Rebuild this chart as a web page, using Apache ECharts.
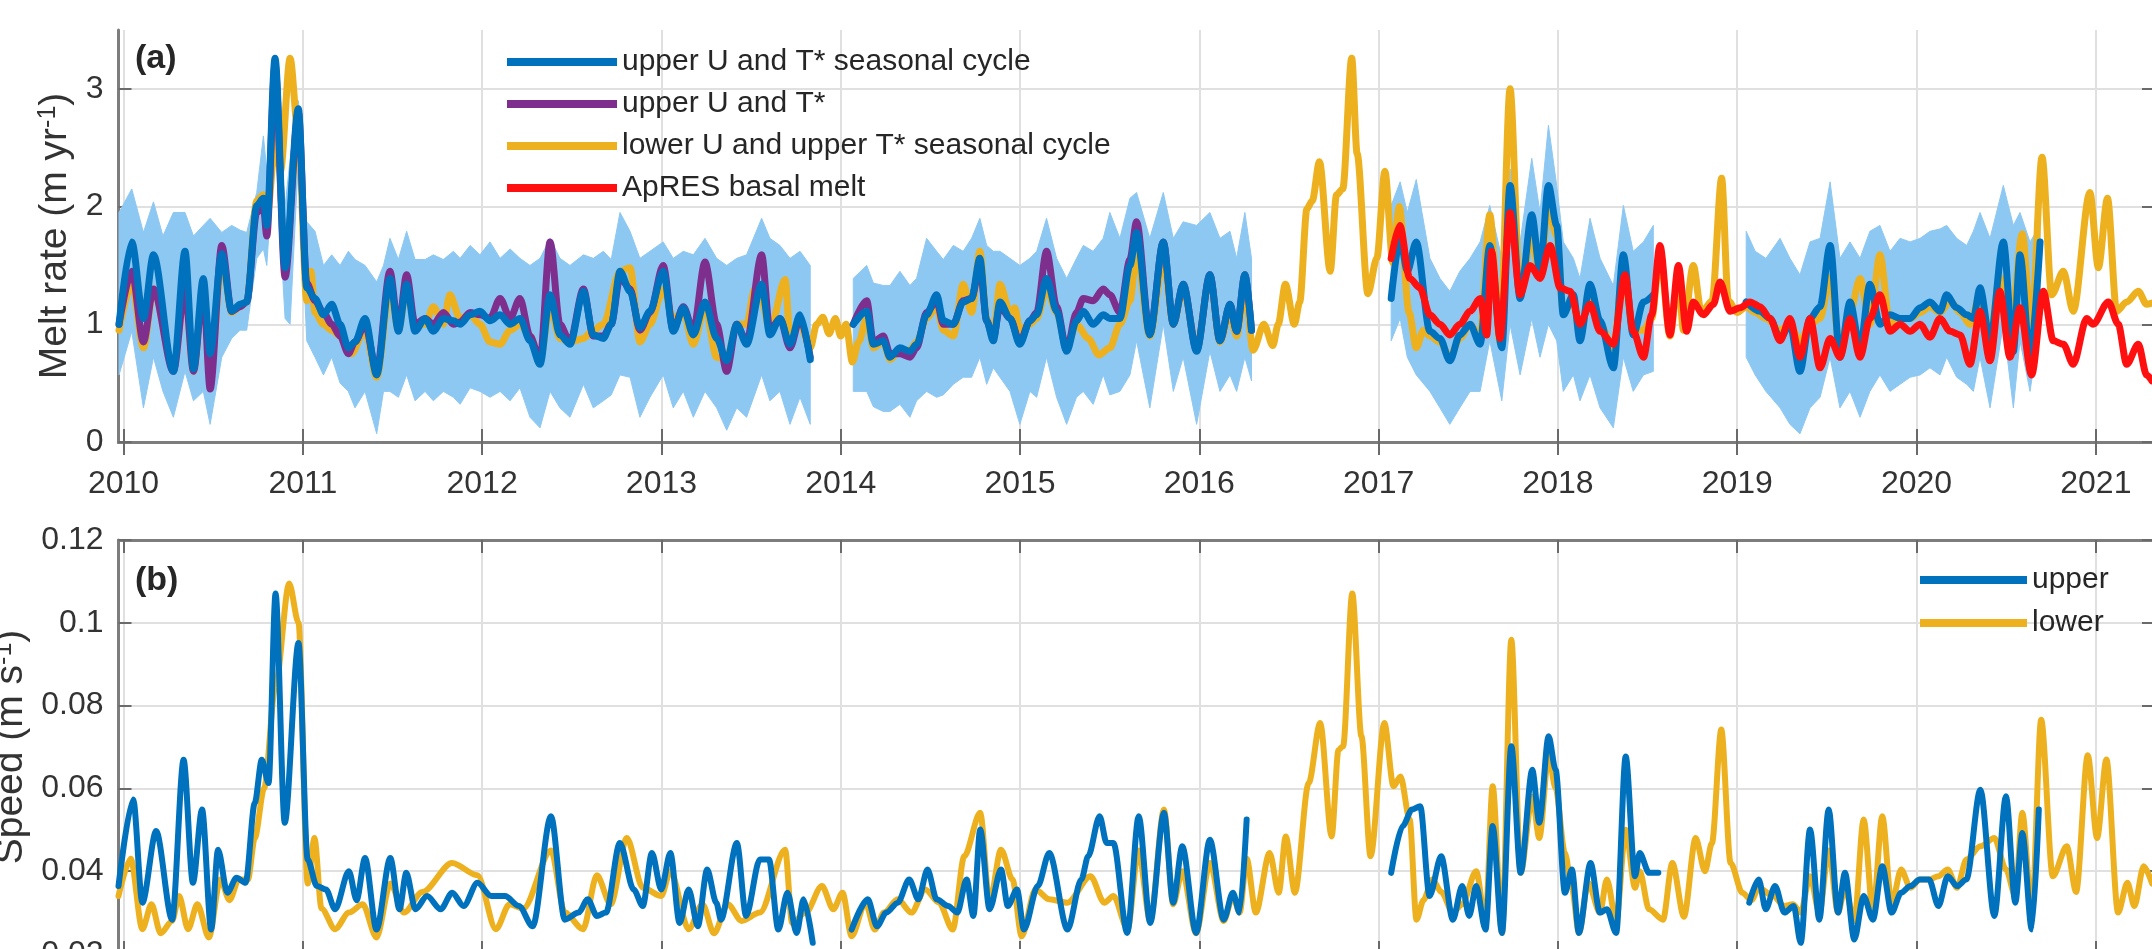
<!DOCTYPE html>
<html><head><meta charset="utf-8">
<script src="https://cdn.jsdelivr.net/npm/echarts@6/dist/echarts.min.js"></script>
<style>html,body{margin:0;padding:0;background:#fff}#c{width:2152px;height:949px}</style>
</head><body><div id="c"></div>
<script>
// ---------- tick labels ----------
const YEAR_TICKS = [2010,2011,2012,2013,2014,2015,2016,2017,2018,2019,2020,2021];
const MELT_TICKS = [0,1,2,3];
const SPEED_TICKS = [0.02,0.04,0.06,0.08,0.1,0.12];
const X_MIN = 2009.972, X_MAX = 2021.330;

// ---------- panel (a): melt rate (m/yr) ----------
// upper U and T* seasonal cycle (segments)
const meltUpperSeasonal = [
[[2009.975,1.00],[2010.046,1.70],[2010.111,1.05],[2010.167,1.59],[2010.278,0.60],[2010.343,1.62],[2010.39,0.62],[2010.445,1.39],[2010.483,0.75],[2010.548,1.60],[2010.603,1.11],[2010.65,1.17],[2010.687,1.19],[2010.743,2.01],[2010.78,2.07],[2010.799,1.84],[2010.845,3.26],[2010.901,1.48],[2010.975,2.83],[2011.022,1.31],[2011.068,1.22],[2011.115,1.08],[2011.161,1.17],[2011.208,1.00],[2011.254,0.80],[2011.291,0.85],[2011.347,1.05],[2011.412,0.57],[2011.486,1.39],[2011.533,0.94],[2011.579,1.34],[2011.626,0.94],[2011.682,1.05],[2011.728,0.94],[2011.784,1.05],[2011.84,1.03],[2011.877,1.00],[2011.933,1.08],[2011.988,1.11],[2012.044,1.03],[2012.10,1.08],[2012.156,1.00],[2012.211,1.05],[2012.267,0.86],[2012.323,0.66],[2012.379,1.25],[2012.434,0.91],[2012.49,0.83],[2012.565,1.28],[2012.62,0.91],[2012.676,0.88],[2012.72,1.00],[2012.769,1.45],[2012.825,1.28],[2012.88,0.97],[2012.936,1.11],[2013.01,1.45],[2013.066,0.94],[2013.122,1.14],[2013.178,0.91],[2013.243,1.19],[2013.308,0.88],[2013.364,0.69],[2013.42,1.00],[2013.475,0.83],[2013.559,1.34],[2013.605,0.91],[2013.661,1.05],[2013.717,0.83],[2013.773,1.08],[2013.83,0.70]],
[[2014.07,1.00],[2014.145,1.11],[2014.182,0.83],[2014.237,0.86],[2014.275,0.72],[2014.33,0.80],[2014.386,0.77],[2014.423,0.83],[2014.479,1.08],[2014.535,1.25],[2014.572,1.03],[2014.628,1.00],[2014.683,1.19],[2014.73,1.22],[2014.776,1.56],[2014.814,1.03],[2014.851,0.86],[2014.888,1.19],[2014.944,1.05],[2014.999,0.83],[2015.055,1.03],[2015.093,1.08],[2015.148,1.39],[2015.204,1.11],[2015.26,0.77],[2015.315,1.03],[2015.353,1.11],[2015.408,1.00],[2015.464,1.08],[2015.501,1.05],[2015.557,1.05],[2015.613,1.50],[2015.65,1.78],[2015.724,0.91],[2015.799,1.70],[2015.855,1.00],[2015.91,1.34],[2015.985,0.77],[2016.059,1.42],[2016.115,0.86],[2016.171,1.17],[2016.208,0.94],[2016.254,1.42],[2016.291,0.95]],
[[2017.07,1.22],[2017.12,1.73],[2017.16,1.45],[2017.21,1.70],[2017.286,0.94],[2017.342,0.88],[2017.397,0.69],[2017.453,0.91],[2017.51,1.00],[2017.566,0.83],[2017.62,1.67],[2017.687,0.80],[2017.733,2.18],[2017.789,1.22],[2017.854,1.93],[2017.90,1.45],[2017.947,2.18],[2017.993,1.84],[2018.03,1.08],[2018.086,1.25],[2018.123,0.86],[2018.179,1.34],[2018.235,1.03],[2018.309,0.63],[2018.365,1.59],[2018.42,0.91],[2018.477,1.19],[2018.532,1.25]],
[[2019.05,1.19],[2019.127,1.11],[2019.183,1.05],[2019.239,0.88],[2019.294,1.00],[2019.35,0.60],[2019.406,1.05],[2019.462,1.15],[2019.518,1.67],[2019.573,0.72],[2019.629,1.19],[2019.685,0.80],[2019.74,1.34],[2019.796,1.00],[2019.852,1.08],[2019.908,1.05],[2019.964,1.05],[2020.02,1.14],[2020.075,1.19],[2020.131,1.11],[2020.168,1.25],[2020.224,1.14],[2020.28,1.08],[2020.317,1.05],[2020.354,1.31],[2020.41,0.86],[2020.484,1.70],[2020.54,0.77],[2020.577,1.59],[2020.633,0.72],[2020.689,1.70]]
];
// uncertainty band of the seasonal-cycle estimate: [year, low, high]
const meltBand = [
[[2009.975,0.57,1.95],[2010.046,0.94,2.15],[2010.111,0.29,1.78],[2010.167,0.72,2.04],[2010.22,0.43,1.75],[2010.278,0.21,1.95],[2010.343,0.60,1.95],[2010.39,0.35,1.75],[2010.445,0.43,1.84],[2010.483,0.15,1.90],[2010.548,0.72,1.78],[2010.603,0.88,1.84],[2010.65,0.95,1.80],[2010.687,0.95,1.78],[2010.743,1.56,2.12],[2010.78,1.64,2.60],[2010.799,1.50,2.30],[2010.845,2.55,3.28],[2010.901,1.05,2.00],[2010.929,1.00,2.40],[2010.975,2.40,2.90],[2011.022,0.86,1.87],[2011.068,0.72,1.79],[2011.115,0.57,1.50],[2011.161,0.72,1.59],[2011.208,0.50,1.50],[2011.254,0.43,1.62],[2011.291,0.29,1.55],[2011.347,0.43,1.50],[2011.412,0.07,1.36],[2011.45,0.43,1.50],[2011.486,0.43,1.73],[2011.533,0.38,1.55],[2011.579,0.57,1.79],[2011.626,0.35,1.55],[2011.682,0.43,1.55],[2011.728,0.35,1.59],[2011.784,0.43,1.55],[2011.84,0.38,1.62],[2011.877,0.32,1.56],[2011.933,0.46,1.67],[2011.988,0.43,1.59],[2012.044,0.38,1.70],[2012.10,0.43,1.56],[2012.156,0.35,1.64],[2012.211,0.46,1.56],[2012.267,0.21,1.50],[2012.323,0.12,1.56],[2012.379,0.43,1.73],[2012.434,0.29,1.56],[2012.49,0.21,1.50],[2012.565,0.49,1.59],[2012.62,0.29,1.56],[2012.676,0.35,1.62],[2012.72,0.40,1.55],[2012.769,0.57,1.95],[2012.825,0.55,1.79],[2012.88,0.21,1.56],[2012.936,0.38,1.62],[2013.01,0.57,1.70],[2013.066,0.29,1.56],[2013.122,0.43,1.62],[2013.178,0.21,1.59],[2013.243,0.43,1.73],[2013.308,0.29,1.56],[2013.364,0.10,1.50],[2013.42,0.29,1.56],[2013.475,0.21,1.59],[2013.559,0.57,1.90],[2013.605,0.35,1.73],[2013.661,0.43,1.67],[2013.717,0.15,1.56],[2013.773,0.38,1.62],[2013.83,0.15,1.50]],
[[2014.07,0.43,1.39],[2014.145,0.43,1.50],[2014.182,0.30,1.35],[2014.237,0.26,1.33],[2014.275,0.26,1.33],[2014.33,0.32,1.45],[2014.386,0.21,1.33],[2014.423,0.35,1.39],[2014.479,0.43,1.73],[2014.535,0.38,1.62],[2014.572,0.40,1.55],[2014.628,0.49,1.67],[2014.683,0.55,1.62],[2014.73,0.55,1.73],[2014.776,0.72,1.90],[2014.814,0.49,1.67],[2014.851,0.63,1.62],[2014.888,0.55,1.62],[2014.944,0.43,1.56],[2014.999,0.15,1.50],[2015.055,0.43,1.56],[2015.093,0.38,1.62],[2015.148,0.72,1.90],[2015.204,0.38,1.56],[2015.26,0.15,1.39],[2015.315,0.38,1.56],[2015.353,0.43,1.67],[2015.408,0.32,1.62],[2015.464,0.57,1.73],[2015.501,0.40,1.95],[2015.557,0.43,1.73],[2015.613,0.57,2.07],[2015.65,0.86,2.12],[2015.724,0.29,1.73],[2015.799,1.00,2.12],[2015.855,0.43,1.73],[2015.91,0.72,1.87],[2015.985,0.15,1.84],[2016.059,0.77,1.95],[2016.115,0.43,1.73],[2016.171,0.57,1.79],[2016.208,0.43,1.56],[2016.254,0.72,1.95],[2016.291,0.52,1.56]],
[[2017.07,0.86,2.01],[2017.12,1.05,2.21],[2017.16,0.72,1.95],[2017.21,0.57,2.23],[2017.286,0.43,1.56],[2017.342,0.29,1.39],[2017.397,0.15,1.28],[2017.453,0.29,1.45],[2017.51,0.43,1.56],[2017.566,0.43,1.70],[2017.62,0.86,2.01],[2017.687,0.35,1.56],[2017.733,1.00,2.32],[2017.789,0.57,1.70],[2017.854,1.05,2.41],[2017.90,0.72,1.95],[2017.947,1.00,2.69],[2017.993,0.86,2.18],[2018.03,0.43,1.70],[2018.086,0.57,1.56],[2018.123,0.35,1.39],[2018.179,0.57,1.90],[2018.235,0.29,1.56],[2018.309,0.12,1.33],[2018.365,0.72,2.01],[2018.42,0.43,1.62],[2018.477,0.57,1.70],[2018.532,0.60,1.84]],
[[2019.05,0.72,1.79],[2019.10,0.57,1.62],[2019.16,0.43,1.56],[2019.239,0.29,1.73],[2019.294,0.15,1.56],[2019.35,0.07,1.42],[2019.406,0.29,1.70],[2019.462,0.38,1.73],[2019.518,0.72,2.21],[2019.573,0.29,1.56],[2019.629,0.43,1.70],[2019.685,0.21,1.56],[2019.74,0.43,1.79],[2019.796,0.57,1.84],[2019.852,0.43,1.62],[2019.908,0.49,1.73],[2019.964,0.55,1.70],[2020.02,0.57,1.73],[2020.075,0.63,1.79],[2020.131,0.57,1.81],[2020.168,0.72,1.84],[2020.224,0.55,1.73],[2020.28,0.49,1.67],[2020.317,0.43,1.79],[2020.354,0.72,1.95],[2020.41,0.29,1.73],[2020.484,1.00,2.18],[2020.54,0.29,1.84],[2020.577,0.86,1.95],[2020.633,0.43,1.70],[2020.689,1.00,1.84]]
];
// upper U and T*
const meltUpper = [
[[2009.975,1.00],[2010.046,1.45],[2010.111,0.85],[2010.167,1.30],[2010.278,0.60],[2010.343,1.30],[2010.39,0.60],[2010.445,1.30],[2010.483,0.45],[2010.548,1.67],[2010.603,1.11],[2010.65,1.15],[2010.687,1.19],[2010.743,1.95],[2010.78,2.00],[2010.799,1.75],[2010.845,3.20],[2010.901,1.40],[2010.975,2.80],[2011.022,1.35],[2011.068,1.20],[2011.115,1.10],[2011.161,1.00],[2011.208,0.90],[2011.254,0.75],[2011.291,0.85],[2011.347,1.00],[2011.412,0.60],[2011.486,1.45],[2011.533,0.97],[2011.579,1.42],[2011.626,1.00],[2011.682,1.05],[2011.728,1.00],[2011.784,1.10],[2011.84,1.00],[2011.877,1.02],[2011.933,1.10],[2011.988,1.08],[2012.044,1.05],[2012.10,1.22],[2012.156,1.05],[2012.211,1.22],[2012.267,0.90],[2012.323,0.70],[2012.379,1.70],[2012.434,1.00],[2012.49,0.85],[2012.565,1.30],[2012.62,0.90],[2012.676,0.90],[2012.72,1.00],[2012.769,1.40],[2012.825,1.30],[2012.88,0.95],[2012.936,1.10],[2013.01,1.50],[2013.066,0.95],[2013.122,1.15],[2013.178,0.95],[2013.243,1.53],[2013.308,1.00],[2013.364,0.60],[2013.42,1.00],[2013.475,0.85],[2013.559,1.59],[2013.605,0.95],[2013.661,1.05],[2013.717,0.80],[2013.773,1.05],[2013.83,0.72]],
[[2014.07,1.00],[2014.145,1.20],[2014.182,0.85],[2014.237,0.90],[2014.275,0.75],[2014.33,0.75],[2014.386,0.72],[2014.423,0.80],[2014.479,1.10],[2014.535,1.20],[2014.572,1.00],[2014.628,1.00],[2014.683,1.20],[2014.73,1.22],[2014.776,1.50],[2014.814,1.03],[2014.851,0.88],[2014.888,1.15],[2014.944,1.05],[2014.999,0.85],[2015.055,1.03],[2015.093,1.10],[2015.148,1.62],[2015.204,1.15],[2015.26,0.78],[2015.315,1.10],[2015.353,1.22],[2015.408,1.20],[2015.464,1.30],[2015.501,1.25],[2015.557,1.10],[2015.613,1.55],[2015.65,1.87],[2015.724,0.92],[2015.799,1.70],[2015.855,1.00],[2015.91,1.34],[2015.985,0.78],[2016.059,1.42],[2016.115,0.86],[2016.171,1.17],[2016.208,0.94],[2016.254,1.42],[2016.291,0.95]]
];
// lower U and upper T* seasonal cycle
const meltLowerSeasonal = [
[[2009.975,0.95],[2010.046,1.35],[2010.111,0.80],[2010.167,1.30],[2010.278,0.62],[2010.343,1.30],[2010.39,0.60],[2010.445,1.30],[2010.483,0.55],[2010.548,1.55],[2010.603,1.10],[2010.65,1.15],[2010.687,1.19],[2010.743,2.05],[2010.78,2.10],[2010.799,1.90],[2010.85,2.60],[2010.875,2.30],[2010.929,3.26],[2010.975,2.60],[2011.022,1.20],[2011.045,1.45],[2011.068,1.10],[2011.115,1.00],[2011.161,0.95],[2011.208,0.90],[2011.27,0.75],[2011.347,0.95],[2011.412,0.55],[2011.486,1.30],[2011.533,0.95],[2011.579,1.30],[2011.626,1.00],[2011.682,1.00],[2011.728,1.15],[2011.784,1.00],[2011.82,1.25],[2011.877,1.05],[2011.933,1.08],[2011.988,1.00],[2012.044,0.85],[2012.10,0.83],[2012.156,0.95],[2012.211,1.00],[2012.267,0.90],[2012.323,0.70],[2012.379,1.15],[2012.434,0.88],[2012.49,0.85],[2012.565,0.88],[2012.62,0.95],[2012.676,1.00],[2012.769,1.45],[2012.825,1.48],[2012.88,0.85],[2012.936,1.00],[2013.01,1.30],[2013.066,1.05],[2013.122,1.10],[2013.178,0.83],[2013.243,1.15],[2013.308,0.72],[2013.364,0.70],[2013.42,1.00],[2013.475,1.00],[2013.52,1.30],[2013.559,1.20],[2013.605,0.95],[2013.69,1.38],[2013.717,0.90],[2013.773,1.00],[2013.83,0.80],[2013.866,1.00],[2013.90,1.06],[2013.935,0.92],[2013.97,1.05],[2014.00,0.90],[2014.03,1.00],[2014.065,0.68],[2014.10,0.85],[2014.145,1.05],[2014.182,0.80],[2014.237,0.85],[2014.275,0.70],[2014.33,0.78],[2014.386,0.78],[2014.423,0.85],[2014.479,1.05],[2014.535,1.15],[2014.572,0.95],[2014.628,0.90],[2014.683,1.34],[2014.73,1.10],[2014.776,1.62],[2014.814,1.05],[2014.851,0.88],[2014.888,1.34],[2014.944,1.10],[2014.97,1.14],[2014.999,0.95],[2015.055,1.00],[2015.093,1.05],[2015.148,1.30],[2015.204,1.10],[2015.26,0.80],[2015.315,1.00],[2015.38,0.88],[2015.44,0.74],[2015.501,0.80],[2015.557,1.00],[2015.613,1.20],[2015.65,1.60],[2015.724,0.90],[2015.799,1.55],[2015.855,1.00],[2015.91,1.30],[2015.985,0.80],[2016.059,1.40],[2016.115,0.85],[2016.171,1.10],[2016.208,0.90],[2016.254,1.30],[2016.30,0.78],[2016.36,1.00],[2016.41,0.82],[2016.44,1.00],[2016.48,1.34],[2016.53,1.00],[2016.56,1.19],[2016.60,1.98],[2016.63,2.05],[2016.67,2.38],[2016.73,1.45],[2016.765,2.10],[2016.80,2.15],[2016.85,3.26],[2016.88,2.45],[2016.94,1.26],[2016.99,1.56],[2017.035,2.30],[2017.08,1.52],[2017.115,2.00],[2017.17,1.10],[2017.21,0.80],[2017.25,0.95],[2017.286,0.90],[2017.342,0.85],[2017.397,0.72],[2017.453,0.88],[2017.51,1.00],[2017.566,0.90],[2017.62,1.93],[2017.677,0.85],[2017.733,3.00],[2017.789,1.25],[2017.854,1.75],[2017.90,1.40],[2017.947,2.00],[2017.993,1.75],[2018.03,1.10],[2018.086,1.20],[2018.123,0.90],[2018.179,1.30],[2018.235,1.00],[2018.309,0.80],[2018.365,1.45],[2018.42,0.95],[2018.477,0.95],[2018.523,1.05],[2018.569,1.60],[2018.625,0.90],[2018.672,1.40],[2018.70,0.95],[2018.755,1.50],[2018.80,1.10],[2018.86,1.20],[2018.913,2.24],[2018.95,1.20],[2019.00,1.10],[2019.05,1.15],[2019.10,1.10],[2019.16,1.05],[2019.239,0.95],[2019.294,1.00],[2019.35,0.85],[2019.406,1.00],[2019.462,1.05],[2019.518,1.40],[2019.573,0.80],[2019.629,1.10],[2019.685,1.39],[2019.74,1.00],[2019.796,1.59],[2019.852,1.00],[2019.908,1.05],[2019.964,1.05],[2020.02,1.10],[2020.075,1.15],[2020.131,1.10],[2020.187,1.20],[2020.243,1.10],[2020.298,1.00],[2020.354,1.25],[2020.41,0.90],[2020.465,1.40],[2020.521,0.90],[2020.59,1.77],[2020.64,0.95],[2020.70,2.42],[2020.754,1.25],[2020.819,1.45],[2020.874,1.11],[2020.967,2.12],[2021.014,1.48],[2021.065,2.07],[2021.116,1.11],[2021.172,1.19],[2021.237,1.28],[2021.283,1.17],[2021.313,1.18]]
];
// ApRES basal melt
const meltApres = [
[[2017.07,1.56],[2017.118,1.84],[2017.174,1.39],[2017.23,1.31],[2017.286,1.08],[2017.342,1.00],[2017.397,0.91],[2017.453,1.00],[2017.51,1.11],[2017.566,1.22],[2017.603,0.91],[2017.63,1.62],[2017.677,0.88],[2017.733,1.95],[2017.789,1.25],[2017.845,1.50],[2017.90,1.39],[2017.956,1.67],[2018.012,1.31],[2018.068,1.28],[2018.123,1.00],[2018.179,1.17],[2018.235,0.94],[2018.309,0.83],[2018.374,1.42],[2018.42,0.94],[2018.477,0.72],[2018.523,1.08],[2018.569,1.67],[2018.625,0.91],[2018.672,1.50],[2018.718,0.94],[2018.755,1.19],[2018.811,1.08],[2018.867,1.17],[2018.904,1.36],[2018.96,1.11],[2019.016,1.14],[2019.071,1.19],[2019.127,1.15],[2019.183,1.05],[2019.239,0.86],[2019.294,1.05],[2019.35,0.72],[2019.406,1.05],[2019.462,0.63],[2019.518,0.88],[2019.573,0.72],[2019.629,1.05],[2019.685,0.72],[2019.74,1.05],[2019.796,1.25],[2019.852,0.94],[2019.908,1.00],[2019.964,0.94],[2020.02,1.00],[2020.075,0.89],[2020.131,1.05],[2020.187,0.94],[2020.243,0.91],[2020.298,0.66],[2020.354,1.11],[2020.41,0.69],[2020.465,1.28],[2020.521,0.72],[2020.577,1.14],[2020.642,0.57],[2020.707,1.28],[2020.763,0.86],[2020.819,0.83],[2020.874,0.66],[2020.949,1.05],[2020.985,1.00],[2021.07,1.19],[2021.125,1.00],[2021.172,0.66],[2021.237,0.83],[2021.283,0.57],[2021.313,0.52]]
];

// ---------- panel (b): speed (m/s) ----------
const speedUpper = [
[[2009.972,0.0364],[2010.054,0.0573],[2010.105,0.0324],[2010.182,0.0497],[2010.271,0.0283],[2010.335,0.0669],[2010.387,0.0372],[2010.438,0.0549],[2010.489,0.0259],[2010.527,0.0452],[2010.579,0.0348],[2010.63,0.0384],[2010.681,0.0372],[2010.732,0.0565],[2010.771,0.0669],[2010.809,0.0613],[2010.848,0.1071],[2010.899,0.0517],[2010.976,0.0951],[2011.027,0.0428],[2011.078,0.0364],[2011.129,0.0356],[2011.18,0.0308],[2011.257,0.0400],[2011.30,0.0330],[2011.347,0.0432],[2011.411,0.0259],[2011.488,0.0432],[2011.539,0.0308],[2011.577,0.0396],[2011.628,0.0308],[2011.693,0.0340],[2011.769,0.0308],[2011.833,0.0348],[2011.897,0.0316],[2011.974,0.0372],[2012.051,0.0340],[2012.128,0.0340],[2012.205,0.0316],[2012.282,0.0267],[2012.384,0.0533],[2012.461,0.0283],[2012.538,0.0300],[2012.589,0.0332],[2012.64,0.0292],[2012.691,0.0300],[2012.768,0.0468],[2012.845,0.0356],[2012.896,0.0316],[2012.947,0.0444],[2012.999,0.0356],[2013.05,0.0444],[2013.101,0.0275],[2013.152,0.0356],[2013.203,0.0267],[2013.255,0.0404],[2013.306,0.0324],[2013.332,0.0283],[2013.421,0.0468],[2013.472,0.0292],[2013.549,0.0428],[2013.60,0.0428],[2013.652,0.0259],[2013.703,0.0348],[2013.754,0.0251],[2013.793,0.0332],[2013.844,0.0227]],
[[2014.061,0.0259],[2014.151,0.0332],[2014.202,0.0267],[2014.254,0.0300],[2014.318,0.0324],[2014.382,0.0380],[2014.433,0.0332],[2014.484,0.0404],[2014.535,0.0332],[2014.599,0.0316],[2014.65,0.0300],[2014.702,0.0380],[2014.74,0.0292],[2014.778,0.0501],[2014.83,0.0308],[2014.894,0.0404],[2014.932,0.0316],[2014.983,0.0356],[2015.022,0.0259],[2015.099,0.0364],[2015.163,0.0444],[2015.265,0.0259],[2015.342,0.0380],[2015.38,0.0436],[2015.444,0.0533],[2015.483,0.0468],[2015.521,0.0468],[2015.598,0.0251],[2015.662,0.0533],[2015.726,0.0275],[2015.803,0.0541],[2015.854,0.0324],[2015.905,0.0460],[2015.982,0.0251],[2016.059,0.0476],[2016.136,0.0283],[2016.187,0.0348],[2016.225,0.0300],[2016.264,0.0525]],
[[2017.07,0.0396],[2017.134,0.0509],[2017.186,0.0549],[2017.232,0.0557],[2017.284,0.0340],[2017.349,0.0436],[2017.414,0.0283],[2017.466,0.0364],[2017.505,0.0292],[2017.544,0.0364],[2017.596,0.0259],[2017.636,0.0509],[2017.688,0.0251],[2017.74,0.0702],[2017.792,0.0396],[2017.857,0.0645],[2017.896,0.0517],[2017.948,0.0726],[2017.987,0.0645],[2018.039,0.0348],[2018.078,0.0404],[2018.117,0.0251],[2018.182,0.0420],[2018.234,0.0300],[2018.273,0.0308],[2018.325,0.0251],[2018.378,0.0677],[2018.43,0.0388],[2018.456,0.0444],[2018.508,0.0396],[2018.56,0.0396]],
[[2019.067,0.0324],[2019.12,0.0380],[2019.159,0.0308],[2019.211,0.0364],[2019.263,0.0300],[2019.315,0.0316],[2019.354,0.0227],[2019.406,0.0501],[2019.458,0.0283],[2019.51,0.0549],[2019.562,0.0300],[2019.601,0.0396],[2019.653,0.0235],[2019.705,0.0340],[2019.757,0.0283],[2019.809,0.0412],[2019.861,0.0300],[2019.914,0.0348],[2019.966,0.0364],[2020.018,0.0380],[2020.07,0.0380],[2020.122,0.0316],[2020.174,0.0388],[2020.226,0.0364],[2020.278,0.0380],[2020.356,0.0597],[2020.434,0.0292],[2020.499,0.0581],[2020.551,0.0324],[2020.59,0.0492],[2020.643,0.0259],[2020.682,0.0549]]
];
const speedLower = [
[[2009.972,0.034],[2010.04,0.043],[2010.105,0.026],[2010.156,0.032],[2010.207,0.025],[2010.271,0.028],[2010.31,0.034],[2010.36,0.026],[2010.412,0.032],[2010.476,0.024],[2010.54,0.038],[2010.591,0.033],[2010.643,0.038],[2010.694,0.038],[2010.732,0.048],[2010.784,0.060],[2010.848,0.085],[2010.924,0.1095],[2010.976,0.100],[2011.027,0.037],[2011.065,0.048],[2011.104,0.031],[2011.18,0.026],[2011.257,0.030],[2011.334,0.032],[2011.411,0.024],[2011.488,0.037],[2011.564,0.030],[2011.667,0.035],[2011.833,0.042],[2011.974,0.039],[2012.077,0.026],[2012.153,0.032],[2012.23,0.031],[2012.384,0.045],[2012.461,0.030],[2012.563,0.026],[2012.64,0.039],[2012.717,0.032],[2012.807,0.048],[2012.896,0.036],[2012.999,0.034],[2013.05,0.040],[2013.152,0.026],[2013.229,0.032],[2013.293,0.025],[2013.37,0.032],[2013.447,0.028],[2013.549,0.030],[2013.69,0.0452],[2013.729,0.0275],[2013.805,0.030],[2013.895,0.0364],[2013.959,0.0308],[2014.01,0.0348],[2014.061,0.0243],[2014.138,0.0324],[2014.19,0.0259],[2014.241,0.030],[2014.318,0.0332],[2014.394,0.030],[2014.471,0.0356],[2014.548,0.0324],[2014.625,0.0259],[2014.689,0.0436],[2014.778,0.0541],[2014.83,0.0324],[2014.894,0.0452],[2014.958,0.038],[2015.009,0.0243],[2015.086,0.0356],[2015.163,0.0332],[2015.265,0.0324],[2015.393,0.0388],[2015.47,0.0324],[2015.521,0.034],[2015.60,0.026],[2015.66,0.045],[2015.726,0.028],[2015.803,0.0549],[2015.854,0.032],[2015.905,0.040],[2015.982,0.025],[2016.059,0.042],[2016.136,0.028],[2016.187,0.034],[2016.225,0.030],[2016.264,0.043],[2016.315,0.030],[2016.392,0.0444],[2016.443,0.0348],[2016.482,0.0484],[2016.533,0.0348],[2016.61,0.0613],[2016.674,0.0758],[2016.738,0.0484],[2016.776,0.0693],[2016.802,0.0702],[2016.853,0.1071],[2016.904,0.0726],[2016.955,0.0436],[2017.032,0.0758],[2017.083,0.0605],[2017.122,0.0629],[2017.173,0.0525],[2017.211,0.0283],[2017.25,0.033],[2017.30,0.038],[2017.349,0.035],[2017.414,0.030],[2017.466,0.032],[2017.544,0.040],[2017.596,0.028],[2017.636,0.0605],[2017.688,0.0251],[2017.74,0.0959],[2017.792,0.0396],[2017.857,0.058],[2017.896,0.048],[2017.948,0.068],[2017.987,0.060],[2018.039,0.0444],[2018.078,0.036],[2018.117,0.0251],[2018.169,0.0372],[2018.234,0.030],[2018.273,0.038],[2018.325,0.028],[2018.378,0.050],[2018.43,0.036],[2018.456,0.040],[2018.508,0.0308],[2018.586,0.0283],[2018.638,0.042],[2018.703,0.029],[2018.768,0.048],[2018.82,0.040],[2018.859,0.0468],[2018.911,0.0742],[2018.963,0.042],[2019.028,0.0348],[2019.08,0.033],[2019.12,0.036],[2019.20,0.034],[2019.263,0.0316],[2019.31,0.032],[2019.354,0.030],[2019.406,0.0388],[2019.458,0.030],[2019.51,0.045],[2019.562,0.030],[2019.601,0.036],[2019.653,0.028],[2019.705,0.0525],[2019.757,0.030],[2019.809,0.0533],[2019.861,0.032],[2019.914,0.0404],[2019.966,0.036],[2020.018,0.038],[2020.07,0.038],[2020.122,0.0388],[2020.174,0.0404],[2020.226,0.036],[2020.278,0.0428],[2020.356,0.046],[2020.434,0.048],[2020.499,0.0404],[2020.551,0.034],[2020.59,0.0541],[2020.643,0.030],[2020.695,0.0766],[2020.76,0.0388],[2020.838,0.046],[2020.89,0.035],[2020.955,0.068],[2021.007,0.048],[2021.059,0.067],[2021.124,0.030],[2021.176,0.0372],[2021.215,0.0316],[2021.267,0.0412],[2021.314,0.037]]
];

// ---------- names & colours ----------
const NAMES_A = ['upper U and T* seasonal cycle','upper U and T*','lower U and upper T* seasonal cycle','ApRES basal melt'];
const NAMES_B = ['upper','lower'];
const C_BLUE='#0072BD', C_PURPLE='#7E2F8E', C_YELLOW='#EDB120', C_RED='#FF1010', C_BAND='#8DC8F3';
const FONT='Liberation Sans';

function lines(name, segs, color, width, xi, yi, z){
  return segs.map(seg => ({
    type:'line', name, data:seg, xAxisIndex:xi, yAxisIndex:yi, z,
    showSymbol:false, symbol:'none', smooth:0.3, smoothMonotone:'x',
    lineStyle:{color, width, join:'round', cap:'round'}, itemStyle:{color},
    animation:false, silent:true
  }));
}
// shaded band drawn as one polygon per segment, positioned by the axis scales
function band(segs, color, xi, yi){
  return {
    type:'custom', name:'_band', xAxisIndex:xi, yAxisIndex:yi, z:1, silent:true, animation:false, clip:true,
    data: segs.map(seg => [seg[0][0], seg[0][1]]),
    renderItem:(params, api) => {
      const seg = segs[params.dataIndex];
      const top = seg.map(p => api.coord([p[0], p[2]]));
      const bot = seg.map(p => api.coord([p[0], p[1]])).reverse();
      return {type:'polygon', shape:{points: top.concat(bot)}, style:{fill: color, stroke: color, lineWidth: 1}};
    }
  };
}

const axisLine = {show:true, lineStyle:{color:'#7d7d7d', width:3}};
const tickStyle = {color:'#6a6a6a', width:2};
function xAxes(grid){
  return [{
    type:'value', gridIndex:grid, min:X_MIN, max:X_MAX, position:'bottom',
    axisLine, axisTick:{show:true, inside:true, length:13, customValues:YEAR_TICKS, lineStyle:tickStyle},
    axisLabel:{show:true, customValues:YEAR_TICKS, fontSize:32, fontFamily:FONT, color:'#333', margin:26, formatter:v=>String(Math.round(v))},
    splitLine:{show:true, lineStyle:{color:'#e0e0e0', width:2}}
  },{
    type:'value', gridIndex:grid, min:X_MIN, max:X_MAX, position:'top',
    axisLine, axisTick:{show:true, inside:true, length:13, customValues:YEAR_TICKS, lineStyle:tickStyle},
    axisLabel:{show:false}, splitLine:{show:false}
  }];
}
function yAxes(grid, min, max, ticks, name, gap){
  return [{
    type:'value', gridIndex:grid, min, max, position:'left',
    axisLine, axisTick:{show:true, inside:true, length:13, customValues:ticks, lineStyle:tickStyle},
    axisLabel:{show:true, customValues:ticks, fontSize:32, fontFamily:FONT, color:'#333', margin:15},
    splitLine:{show:true, lineStyle:{color:'#e0e0e0', width:2}},
    name, nameLocation:'middle', nameGap:gap,
    nameTextStyle:{fontSize:39, fontFamily:FONT, color:'#333', rich:{sup:{fontSize:25, fontFamily:FONT, color:'#333', verticalAlign:'top'}}}
  },{
    type:'value', gridIndex:grid, min, max, position:'right',
    axisLine, axisTick:{show:true, inside:true, length:13, customValues:ticks, lineStyle:tickStyle},
    axisLabel:{show:false}, splitLine:{show:false}
  }];
}

const series = [].concat(
  [band(meltBand, C_BAND, 0, 0)],
  lines(NAMES_A[2], meltLowerSeasonal, C_YELLOW, 7, 0, 0, 2),
  lines(NAMES_A[1], meltUpper, C_PURPLE, 7, 0, 0, 3),
  lines(NAMES_A[0], meltUpperSeasonal, C_BLUE, 7, 0, 0, 4),
  lines(NAMES_A[3], meltApres, C_RED, 7, 0, 0, 5),
  lines(NAMES_B[1], speedLower, C_YELLOW, 6, 2, 2, 2),
  lines(NAMES_B[0], speedUpper, C_BLUE, 6, 2, 2, 3)
);

const chart = echarts.init(document.getElementById('c'), null, {renderer:'canvas', width:2152, height:949});
chart.setOption({
  backgroundColor:'#fff',
  animation:false,
  grid:[
    {left:118.5, top:30, width:2036.5, height:412, containLabel:false, outerBoundsMode:'none'},
    {left:118.5, top:540, width:2036.5, height:414, containLabel:false, outerBoundsMode:'none'}
  ],
  xAxis:[].concat(xAxes(0), xAxes(1)),
  yAxis:[].concat(
    yAxes(0, 0, 3.5, MELT_TICKS, 'Melt rate (m yr{sup|-1})', 40),
    yAxes(1, 0.02, 0.12, SPEED_TICKS, 'Speed (m s{sup|-1})', 81)
  ),
  legend:[
    {data:NAMES_A, orient:'vertical', left:507, top:47, padding:0, itemWidth:110, itemHeight:8, itemGap:12, icon:'rect',
     selectedMode:false, textStyle:{fontSize:30, fontFamily:FONT, color:'#262626'}},
    {data:NAMES_B, orient:'vertical', left:1920, top:565, padding:0, itemWidth:107, itemHeight:8, itemGap:13, icon:'rect',
     selectedMode:false, textStyle:{fontSize:30, fontFamily:FONT, color:'#262626'}}
  ],
  graphic:[
    {type:'text', left:135, top:42, z:100, style:{text:'(a)', font:'bold 34px "Liberation Sans"', fill:'#262626'}},
    {type:'text', left:135, top:564, z:100, style:{text:'(b)', font:'bold 34px "Liberation Sans"', fill:'#262626'}}
  ],
  series
});
</script>
</body></html>
